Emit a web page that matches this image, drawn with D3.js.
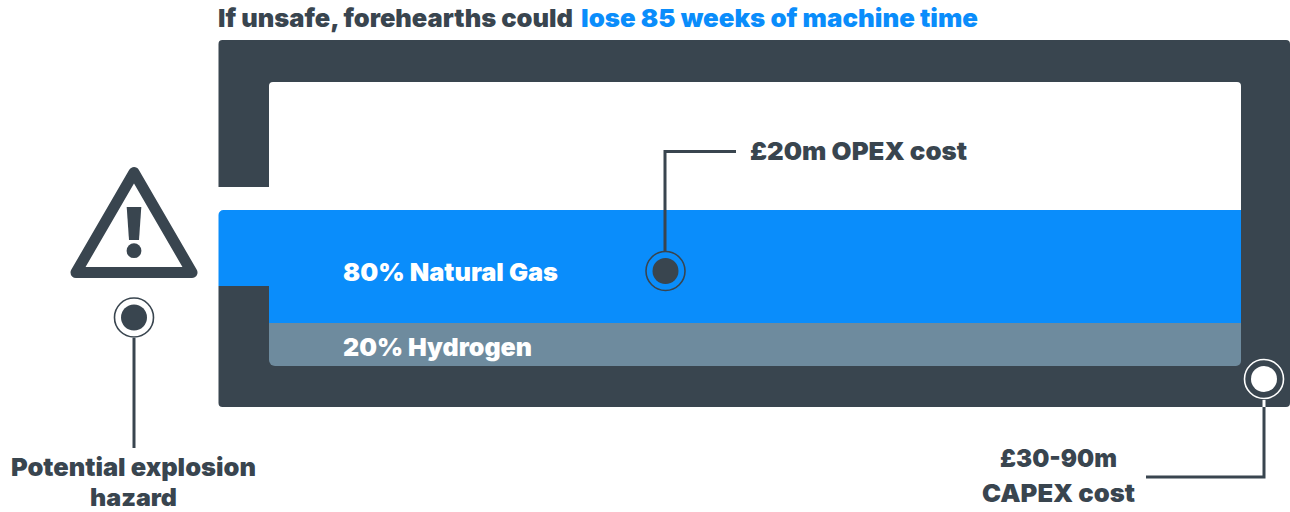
<!DOCTYPE html>
<html><head><meta charset="utf-8">
<script src="https://cdn.jsdelivr.net/npm/d3@7"></script>
<style>html,body{margin:0;padding:0;background:#fff;overflow:hidden}svg{display:block}text{font-family:Inter,"Open Sans",sans-serif;font-weight:900}</style>
</head><body><div id="chart"></div>
<script>
const mixLabels = ["80% Natural Gas", "20% Hydrogen"];
const mixShares = [80, 20];
const mixColors = ["#0a8dfb", "#6e8b9e"];
const titleParts = ["If unsafe, forehearths could", "lose 85 weeks of machine time"];
const opexLabel = "£20m OPEX cost";
const capexLabel = ["£30-90m", "CAPEX cost"];
const hazardLabel = ["Potential explosion", "hazard"];
const dark = "#39454f", blue = "#0a8dfb";

const svg = d3.select("#chart").append("svg").attr("width",1290).attr("height",512);
const level = d3.scaleLinear().domain([0,20,100]).range([366,323,210]);

function fit(sel,w){sel.attr("textLength",w).attr("lengthAdjust","spacingAndGlyphs");return sel;}

// furnace shell with the open chamber above the gas line
svg.append("path").attr("fill",dark).attr("fill-rule","evenodd").attr("d",
 "M218.5 187V44a4 4 0 0 1 4-4H1286a4 4 0 0 1 4 4V403a4 4 0 0 1-4 4H222.5a4 4 0 0 1-4-4V286H269V187Z"+
 "M269 187V86a4 4 0 0 1 4-4H1237a4 4 0 0 1 4 4V323H269Z");

let cum = 0;
const layers = mixShares.map((v,i)=>({v,i})).reverse().map(d=>{const o={...d,y0:cum,y1:cum+d.v};cum+=d.v;return o;}).reverse();
const x0=269,x1=1241,inlet=218.5;
svg.selectAll("path.layer").data(layers).join("path").attr("class","layer")
 .attr("fill",d=>mixColors[d.i])
 .attr("d",d=>{
   const t=level(d.y1),b=level(d.y0);
   if(d.i===0){ return `M${inlet} ${t+5}a5 5 0 0 1 5-5H${x1}V${b}H${x0}V286H${inlet}Z`; }
   return `M${x0} ${t}H${x1}V${b-5}a5 5 0 0 1-5 5H${x0+6}a6 6 0 0 1-6-6Z`;
 });
const labelW=[215,189];
svg.selectAll("text.layerlabel").data(layers).join("text").attr("class","layerlabel")
 .attr("x",343).attr("y",d=>d.i===0?281:356).attr("fill","#fff").attr("font-size",25)
 .attr("textLength",d=>labelW[d.i]).attr("lengthAdjust","spacingAndGlyphs")
 .text(d=>mixLabels[d.i]);

// title
fit(svg.append("text").attr("x",218).attr("y",27).attr("font-size",25).attr("fill",dark).text(titleParts[0]),355);
fit(svg.append("text").attr("x",581).attr("y",27).attr("font-size",25).attr("fill",blue).text(titleParts[1]),397);

// hazard icon
svg.append("path").attr("fill","none").attr("stroke",dark).attr("stroke-width",11).attr("stroke-linejoin","round")
 .attr("d","M134 172.5L192 272.5H76Z");
svg.append("path").attr("fill",dark).attr("d","M126.7 207H141.3L139 240H129Z");
svg.append("circle").attr("cx",134).attr("cy",250.7).attr("r",7.4).attr("fill",dark);

function marker(cx,cy,col,ring){
 svg.append("circle").attr("cx",cx).attr("cy",cy).attr("r",19.5).attr("fill","none").attr("stroke",ring).attr("stroke-width",1.6);
 svg.append("circle").attr("cx",cx).attr("cy",cy).attr("r",13).attr("fill",col);
}
const leader=(d,c=dark)=>svg.append("path").attr("d",d).attr("fill","none").attr("stroke",c).attr("stroke-width",3);

leader("M665 251V151.5H736");
marker(665.5,271,dark,dark);
fit(svg.append("text").attr("x",750).attr("y",160).attr("font-size",25).attr("fill",dark).text(opexLabel),217);

leader("M134 338V448");
marker(134,317.5,dark,dark);
const hazX=[11,90],hazW=[245,87],hazY=[476,506],hazS=[25,24];
svg.selectAll("text.haz").data(hazardLabel).join("text").attr("class","haz")
 .attr("x",(d,i)=>hazX[i]).attr("y",(d,i)=>hazY[i]).attr("font-size",(d,i)=>hazS[i]).attr("fill",dark)
 .attr("textLength",(d,i)=>hazW[i]).attr("lengthAdjust","spacingAndGlyphs").text(d=>d);

leader("M1264 407V477H1146");
svg.append("path").attr("d","M1264 400V407").attr("stroke","#fff").attr("stroke-width",3);
marker(1264,379,"#fff","#fff");
const capX=[1000,982],capW=[117,153];
svg.selectAll("text.cap").data(capexLabel).join("text").attr("class","cap")
 .attr("x",(d,i)=>capX[i]).attr("y",(d,i)=>467+i*35).attr("font-size",25).attr("fill",dark)
 .attr("textLength",(d,i)=>capW[i]).attr("lengthAdjust","spacingAndGlyphs").text(d=>d);
</script></body></html>
